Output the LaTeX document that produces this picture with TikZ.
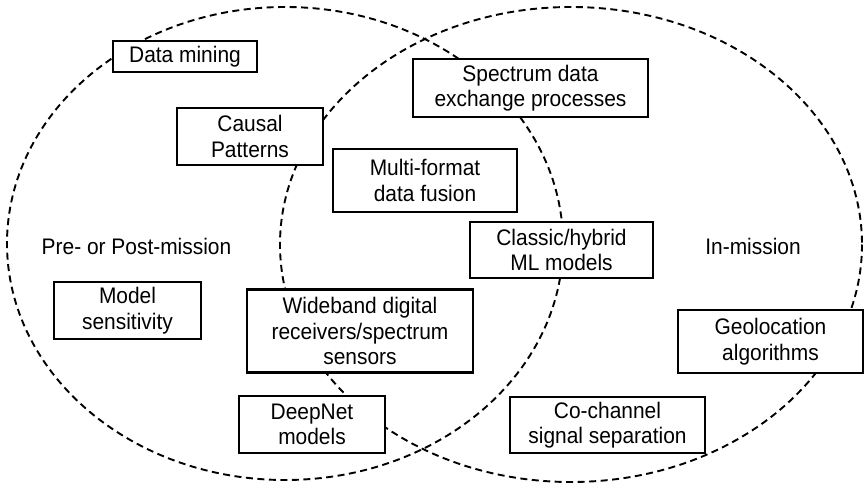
\documentclass[tikz,border=0pt]{standalone}
\usepackage{fontspec}
\setmainfont[FakeStretch=0.93]{Liberation Sans}
\begin{document}
\begin{tikzpicture}[x=1pt,y=-1pt,
  region/.style={draw=black, line width=1.9pt, dash pattern=on 7pt off 4.5pt},
  box/.style={draw=black, fill=white, line width=2.9pt, inner sep=0pt,
    align=center, font=\fontsize{22.5}{25.5}\selectfont},
  tag/.style={inner sep=0pt, font=\fontsize{22.5}{25.5}\selectfont}]
  \useasboundingbox (0,0) rectangle (865,487);
  % the two overlapping mission regions
  \draw[region] (285,243.5) ellipse [x radius=278, y radius=236.5];
  \draw[region] (571,244.5) ellipse [x radius=291, y radius=237.5];
  % region labels
  \node[tag] (pre) at (136.5,246) {Pre- or Post-mission};
  \node[tag] (in) at (753,246) {In-mission};
  % capability boxes
  \node[box, minimum width=144pt, minimum height=31pt] (mining) at (185,56.5) {Data mining};
  \node[box, minimum width=146pt, minimum height=57pt] (causal) at (250,136.5) {Causal\\Patterns};
  \node[box, minimum width=184pt, minimum height=63pt] (fusion) at (425,180.5) {Multi-format\\data fusion};
  \node[box, minimum width=235pt, minimum height=58pt] (exchange) at (530.5,88) {Spectrum data\\exchange processes};
  \node[box, minimum width=183pt, minimum height=56pt] (classic) at (561.5,250) {Classic/hybrid\\ML models};
  \node[box, minimum width=147pt, minimum height=57pt] (sens) at (127.5,310.5) {Model\\sensitivity};
  \node[box, minimum width=226pt, minimum height=83pt] (wideband) at (360,331) {Wideband digital\\receivers/spectrum\\sensors};
  \node[box, minimum width=146pt, minimum height=57pt] (deepnet) at (312,424.5) {DeepNet\\models};
  \node[box, minimum width=195pt, minimum height=56pt] (cochannel) at (607.5,425) {Co-channel\\signal separation};
  \node[box, minimum width=185pt, minimum height=63pt] (geo) at (770.5,341.5) {Geolocation\\algorithms};
\end{tikzpicture}
\end{document}
